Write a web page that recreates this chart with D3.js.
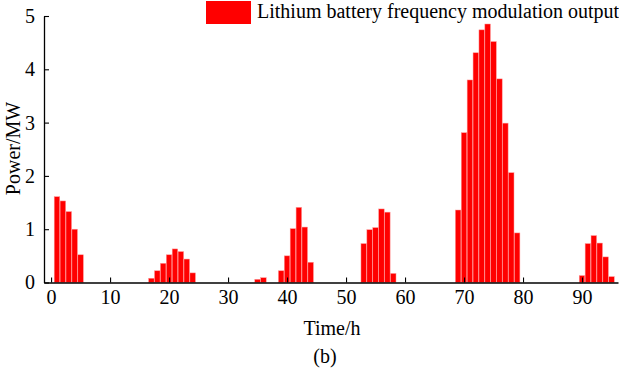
<!DOCTYPE html>
<html>
<head>
<meta charset="utf-8">
<script src="https://cdn.jsdelivr.net/npm/d3@7"></script>
<style>
  body { margin: 0; background: #fff; }
  text { font-family: "Liberation Serif", "Times New Roman", serif; fill: #000; }
</style>
</head>
<body>
<svg width="619" height="379"></svg>
<script>
// hours 0..95, lithium battery output (MW)
var hours = d3.range(0, 96);
var power = [
  0, 1.61, 1.53, 1.33, 1.0, 0.52, 0, 0, 0, 0,
  0, 0, 0, 0, 0, 0, 0, 0.08, 0.22, 0.36,
  0.52, 0.63, 0.58, 0.44, 0.18, 0, 0, 0, 0, 0,
  0, 0, 0, 0, 0, 0.06, 0.09, 0, 0, 0.22,
  0.5, 1.01, 1.41, 1.04, 0.38, 0, 0, 0, 0, 0,
  0, 0, 0, 0.73, 0.99, 1.03, 1.38, 1.32, 0.17, 0,
  0, 0, 0, 0, 0, 0, 0, 0, 0, 1.36,
  2.81, 3.80, 4.31, 4.74, 4.85, 4.52, 3.82, 2.99, 2.06, 0.93,
  0, 0, 0, 0, 0, 0, 0, 0, 0, 0,
  0.13, 0.73, 0.88, 0.74, 0.48, 0.11
];
var xTicks = [0, 10, 20, 30, 40, 50, 60, 70, 80, 90];
var yTicks = [0, 1, 2, 3, 4, 5];
var seriesName = "Lithium battery frequency modulation output";

var svg = d3.select("svg");
var serif = "'Liberation Serif', 'Times New Roman', serif";

var x = d3.scaleLinear().domain([-1.2, 96.1]).range([44, 618]);
var y = d3.scaleLinear().domain([0, 5]).range([282.5, 16]);

// bars
svg.append("g")
  .selectAll("rect")
  .data(hours.filter(function(h) { return power[h] > 0; }))
  .enter().append("rect")
    .attr("x", function(h) { return x(h - 0.47); })
    .attr("width", x(0.94) - x(0))
    .attr("y", function(h) { return y(power[h]); })
    .attr("height", function(h) { return y(0) - y(power[h]); })
    .attr("fill", "#ff0000")
    .attr("stroke", "#ff9a9a")
    .attr("stroke-width", 0.5);

// x axis, ticks pointing inward
var xAxis = svg.append("g")
  .attr("transform", "translate(0," + y(0) + ")")
  .call(d3.axisBottom(x).tickValues(xTicks).tickFormat(d3.format("d"))
    .tickSizeInner(-5).tickSizeOuter(0).tickPadding(7));

// y axis
var yAxis = svg.append("g")
  .attr("transform", "translate(" + x.range()[0] + ",0)")
  .call(d3.axisLeft(y).tickValues(yTicks).tickFormat(d3.format("d"))
    .tickSizeInner(-5).tickSizeOuter(0).tickPadding(9));

[xAxis, yAxis].forEach(function(a) {
  a.select(".domain").attr("stroke", "#000").attr("stroke-width", 1.3);
  a.selectAll(".tick line").attr("stroke", "#000").attr("stroke-width", 1.1);
  a.selectAll(".tick text")
    .style("font-family", serif)
    .style("font-size", "20px");
});

// axis titles
svg.append("text")
  .attr("x", 332).attr("y", 335)
  .attr("text-anchor", "middle")
  .style("font-family", serif)
  .style("font-size", "20px")
  .text("Time/h");

svg.append("text")
  .attr("transform", "translate(20,148.5) rotate(-90)")
  .attr("text-anchor", "middle")
  .style("font-family", serif)
  .style("font-size", "20px")
  .text("Power/MW");

svg.append("text")
  .attr("x", 325).attr("y", 363)
  .attr("text-anchor", "middle")
  .style("font-family", serif)
  .style("font-size", "20px")
  .text("(b)");

// legend
var legend = svg.append("g");
legend.append("rect")
  .attr("x", 206).attr("y", 1)
  .attr("width", 45).attr("height", 23)
  .attr("fill", "#ff0000");
legend.append("text")
  .attr("x", 257).attr("y", 18)
  .style("font-family", serif)
  .style("font-size", "20px")
  .text(seriesName);
</script>
</body>
</html>
